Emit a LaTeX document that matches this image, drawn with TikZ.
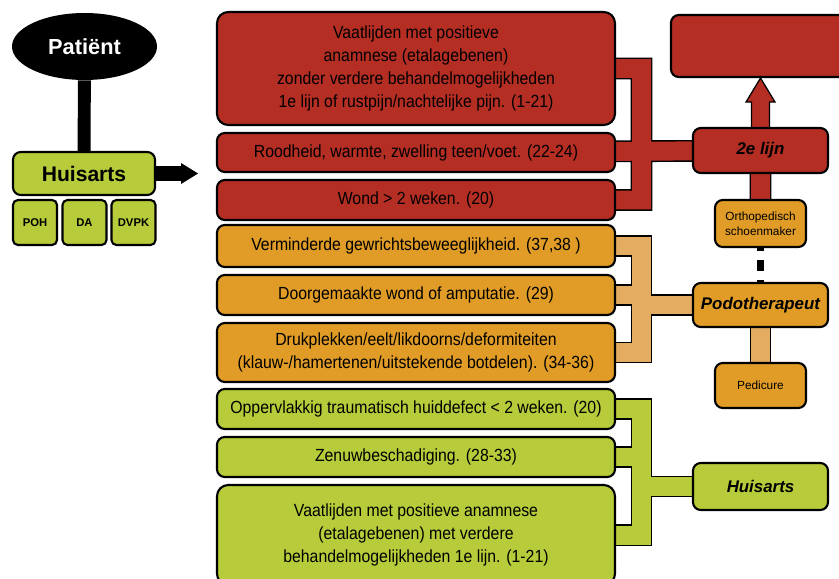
\documentclass[tikz,border=0pt]{standalone}
\usepackage{fontspec}
\setmainfont{Liberation Sans}
\newfontfamily\narrowsans[FakeStretch=0.9]{Liberation Sans}
\usetikzlibrary{shapes.geometric,backgrounds,calc}

\definecolor{boxred}{RGB}{180,46,36}
\definecolor{boxorange}{RGB}{224,156,38}
\definecolor{boxgreen}{RGB}{184,203,58}
\definecolor{bandorange}{RGB}{228,172,96}
\newcommand{\pxu}{0.025cm}

\begin{document}
\begin{tikzpicture}[x=\pxu, y=-\pxu,
    box/.style={draw=black, line width=1.5pt, rounded corners=5.5pt, inner sep=0pt, align=center},
    listbox/.style={box, minimum width=398*\pxu, font=\narrowsans\fontsize{12.5}{16.3}\selectfont},
    sidebox/.style={box, minimum width=135*\pxu, font=\bfseries\itshape\fontsize{12}{14}\selectfont},
    smallbox/.style={box, minimum width=91*\pxu, font=\fontsize{8.4}{10.6}\selectfont},
    staffbox/.style={box, fill=boxgreen, rounded corners=3.5pt, minimum height=45*\pxu, font=\bfseries\fontsize{8}{9}\selectfont}]

    \useasboundingbox (0,0) rectangle (839,578);
    \clip (0,0) rectangle (839,578);

    % patient and GP practice
    \node[ellipse, fill=black, minimum width=145*\pxu, minimum height=67*\pxu, inner sep=0pt, text=white,
        font=\bfseries\fontsize{15.5}{18}\selectfont] (patient) at (84.5,46.5) {Patiënt};
    \node[box, fill=boxgreen, minimum width=142*\pxu, minimum height=43*\pxu,
        font=\bfseries\fontsize{15}{18}\selectfont] (huis) at (84,173.5) {Huisarts};
    \foreach \n/\x/\t in {poh/35/POH, da/84.5/DA, dvpk/133.5/DVPK}
        \node[staffbox, minimum width=44*\pxu] (\n) at (\x,222.5) {\t};

    % red list
    \node[listbox, fill=boxred, minimum height=113*\pxu, rounded corners=8pt] (v1) at (416,68.5)
        {Vaatlijden met positieve\\anamnese (etalagebenen)\\zonder verdere behandelmogelijkheden\\1e lijn of rustpijn/nachtelijke pijn. (1-21)};
    \node[listbox, fill=boxred, minimum height=39*\pxu] (v2) at (416,152.5) {Roodheid, warmte, zwelling teen/voet. (22-24)};
    \node[listbox, fill=boxred, minimum height=40*\pxu] (v3) at (416,200) {Wond > 2 weken. (20)};

    % orange list
    \node[listbox, fill=boxorange, minimum height=42*\pxu] (o1) at (416,246) {Verminderde gewrichtsbeweeglijkheid. (37,38 )};
    \node[listbox, fill=boxorange, minimum height=40*\pxu] (o2) at (416,295) {Doorgemaakte wond of amputatie. (29)};
    \node[listbox, fill=boxorange, minimum height=59*\pxu] (o3) at (416,352.5)
        {Drukplekken/eelt/likdoorns/deformiteiten\\(klauw-/hamertenen/uitstekende botdelen). (34-36)};

    % green list
    \node[listbox, fill=boxgreen, minimum height=40*\pxu] (g1) at (416,409) {Oppervlakkig traumatisch huiddefect < 2 weken. (20)};
    \node[listbox, fill=boxgreen, minimum height=40*\pxu] (g2) at (416,457) {Zenuwbeschadiging. (28-33)};
    \node[listbox, fill=boxgreen, minimum height=100*\pxu, rounded corners=8pt] (g3) at (416,535)
        {Vaatlijden met positieve anamnese\\(etalagebenen) met verdere\\behandelmogelijkheden 1e lijn. (1-21)};

    % care providers
    \node[box, fill=boxred, minimum width=200*\pxu, minimum height=62*\pxu] (top) at (771,46) {};
    \node[sidebox, fill=boxred, minimum height=45*\pxu] (lijn2) at (760.5,150.5) {2e lijn};
    \node[smallbox, fill=boxorange, minimum height=47*\pxu] (ortho) at (760.5,223.5) {Orthopedisch\\schoenmaker};
    \node[sidebox, fill=boxorange, minimum height=44*\pxu] (podo) at (760.5,305) {Podotherapeut};
    \node[smallbox, fill=boxorange, minimum height=45*\pxu] (pedi) at (760.5,385.5) {Pedicure};
    \node[sidebox, fill=boxgreen, minimum height=47*\pxu] (huis2) at (760.5,486.5) {Huisarts};

    \coordinate (bar) at (641.5,0);
    \coordinate (gpout) at ($(huis.east)+(42,0)$);
    \coordinate (tip) at (lijn2.north |- top.south);

    % arrow from the GP
    \draw[line width=10.6pt] (huis.east) -- ($(gpout)+(-16,0)$);
    \fill (gpout) -- ++(-17,-10.5) -- ++(0,21) -- cycle;

    \begin{scope}[on background layer]
        \draw[line width=9.2pt] (patient) -- (huis);

        % brackets
        \foreach \w/\c in {15.5pt/black, 13.5pt/boxred}
            \draw[line width=\w, draw=\c] (v1) -- (v1 -| bar) -- (v3 -| bar) -- (v3)
                (v2) -- (lijn2) (lijn2) -- (ortho);
        \foreach \w/\c in {15.5pt/black, 13.5pt/bandorange}
            \draw[line width=\w, draw=\c] (o1) -- (o1 -| bar) -- (o3 -| bar) -- (o3)
                (o2) -- (o2 -| bar) (podo) -- (podo -| bar) (podo) -- (pedi);
        \foreach \w/\c in {15.5pt/black, 13.5pt/boxgreen}
            \draw[line width=\w, draw=\c] (g1) -- (g1 -| bar) -- (g3 -| bar) -- (g3)
                (g2) -- (g2 -| bar) (huis2) -- (huis2 -| bar);

        % up arrow and dotted link
        \draw[line width=0.9pt, fill=boxred] (tip) -- ++(14.5,24) -- ++(-5.5,0) -- ++(0,30)
            -- ++(-18,0) -- ++(0,-30) -- ++(-5.5,0) -- cycle;
        \draw[line width=5pt, dash pattern=on 7.8pt off 6.4pt, dash phase=5.7pt] (ortho.south) -- (podo.north);
    \end{scope}

\end{tikzpicture}
\end{document}
